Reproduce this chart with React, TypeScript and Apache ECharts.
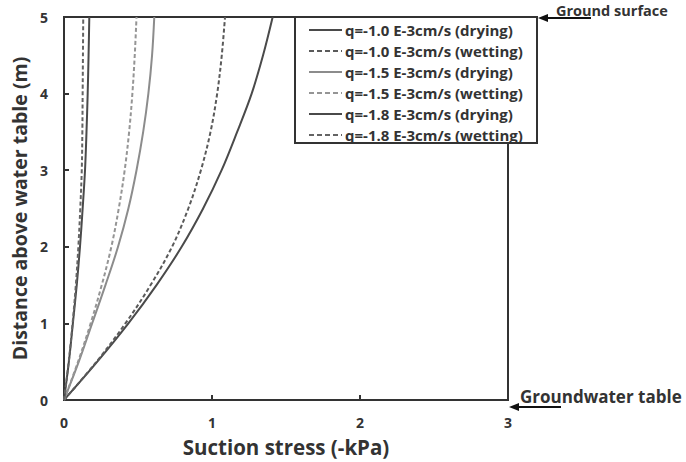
import React, { useEffect, useRef } from "react";
import * as echarts from "echarts";

// Height above the water table (m)
const heights = [0, 0.5, 1, 1.5, 2, 2.5, 3, 3.5, 4, 4.5, 5];

// Suction stress (-kPa) at each height, per flux q and path
const q10Drying = [0, 0.225, 0.435, 0.625, 0.795, 0.94, 1.065, 1.17, 1.268, 1.345, 1.41];
const q10Wetting = [0, 0.22, 0.415, 0.585, 0.73, 0.84, 0.925, 0.99, 1.035, 1.066, 1.088];
const q15Drying = [0, 0.1, 0.19, 0.28, 0.365, 0.435, 0.49, 0.535, 0.57, 0.595, 0.61];
const q15Wetting = [0, 0.095, 0.18, 0.255, 0.32, 0.37, 0.41, 0.44, 0.462, 0.478, 0.49];
const q18Drying = [0, 0.033, 0.06, 0.086, 0.108, 0.126, 0.142, 0.152, 0.16, 0.166, 0.171];
const q18Wetting = [0, 0.032, 0.058, 0.08, 0.097, 0.11, 0.12, 0.124, 0.126, 0.128, 0.13];

const seriesNames = [
  "q=-1.0 E-3cm/s (drying)",
  "q=-1.0 E-3cm/s (wetting)",
  "q=-1.5 E-3cm/s (drying)",
  "q=-1.5 E-3cm/s (wetting)",
  "q=-1.8 E-3cm/s (drying)",
  "q=-1.8 E-3cm/s (wetting)",
];
const seriesValues = [q10Drying, q10Wetting, q15Drying, q15Wetting, q18Drying, q18Wetting];
const seriesColors = ["#4a4a4a", "#5a5a5a", "#8c8c8c", "#959595", "#4a4a4a", "#646464"];

const xTicks = [0, 3];
const yTicks = [0, 5];

const FONT = "'Open Sans', 'Liberation Sans', Arial, sans-serif";
const INK = "#333";

// Key box drawn over the top-right corner of the plot frame
const KEY_LEFT = 295;
const KEY_TOP = 17;
const KEY_W = 242;
const KEY_H = 126;
const KEY_ROW0 = 30;
const KEY_PITCH = 21;

function buildKey() {
  const items: any[] = [
    {
      type: "rect",
      shape: { x: KEY_LEFT, y: KEY_TOP, width: KEY_W, height: KEY_H },
      style: { fill: "#fff", stroke: INK, lineWidth: 2 },
      z: 10,
    },
  ];
  seriesNames.forEach((name, i) => {
    const y = KEY_ROW0 + i * KEY_PITCH;
    items.push({
      type: "line",
      shape: { x1: KEY_LEFT + 14, y1: y, x2: KEY_LEFT + 47, y2: y },
      style: {
        stroke: seriesColors[i],
        lineWidth: 2,
        lineDash: i % 2 === 1 ? [5, 3] : null,
      },
      z: 11,
    });
    items.push({
      type: "text",
      x: KEY_LEFT + 50,
      y,
      style: {
        text: name,
        fontFamily: FONT,
        fontWeight: "bold",
        fontSize: 15,
        fill: INK,
        verticalAlign: "middle",
      },
      z: 11,
    });
  });
  return items;
}

export default function App() {
  const ref = useRef<HTMLDivElement>(null);

  useEffect(() => {
    if (!ref.current) return;
    const chart = echarts.init(ref.current, undefined, { renderer: "svg" });

    const series = seriesNames.map((name, i) => ({
      name,
      type: "line",
      smooth: 0.35,
      symbol: "none",
      data: heights.map((h, k) => [seriesValues[i][k], h]),
      lineStyle: {
        color: seriesColors[i],
        width: 2,
        type: i % 2 === 1 ? [4, 2.5] : "solid",
      },
      itemStyle: { color: seriesColors[i] },
      z: 2,
    }));

    chart.setOption({
      animation: false,
      backgroundColor: "#fff",
      grid: {
        left: 64,
        right: 178,
        top: 17,
        bottom: 55,
        show: true,
        borderColor: INK,
        borderWidth: 2,
      },
      xAxis: {
        type: "value",
        min: xTicks[0],
        max: xTicks[1],
        interval: 1,
        name: "Suction stress (-kPa)",
        nameLocation: "middle",
        nameGap: 36,
        nameTextStyle: { fontFamily: FONT, fontWeight: "bold", fontSize: 20.5, color: INK },
        axisLine: { lineStyle: { color: INK, width: 2 } },
        axisTick: { inside: true, length: 5, lineStyle: { color: INK, width: 2 } },
        axisLabel: { fontFamily: FONT, fontWeight: "bold", fontSize: 14, color: INK, margin: 15 },
        splitLine: { show: false },
      },
      yAxis: {
        type: "value",
        min: yTicks[0],
        max: yTicks[1],
        interval: 1,
        name: "Distance above water table (m)",
        nameLocation: "middle",
        nameGap: 30,
        nameTextStyle: { fontFamily: FONT, fontWeight: "bold", fontSize: 19.5, color: INK },
        axisLine: { lineStyle: { color: INK, width: 2 } },
        axisTick: { inside: true, length: 5, lineStyle: { color: INK, width: 2 } },
        axisLabel: { fontFamily: FONT, fontWeight: "bold", fontSize: 14, color: INK, margin: 16 },
        splitLine: { show: false },
      },
      graphic: [
        ...buildKey(),
        {
          type: "line",
          shape: { x1: 541, y1: 18, x2: 591, y2: 18 },
          style: { stroke: "#111", lineWidth: 2 },
          z: 20,
        },
        {
          type: "polygon",
          shape: { points: [[538, 18], [548, 14], [548, 22]] },
          style: { fill: "#111" },
          z: 20,
        },
        {
          type: "text",
          x: 556,
          y: 3,
          style: {
            text: "Ground surface",
            fontFamily: FONT,
            fontWeight: "bold",
            fontSize: 14.5,
            fill: INK,
            verticalAlign: "top",
          },
          z: 20,
        },
        {
          type: "line",
          shape: { x1: 512, y1: 407, x2: 561, y2: 407 },
          style: { stroke: "#111", lineWidth: 2 },
          z: 20,
        },
        {
          type: "polygon",
          shape: { points: [[509, 407], [519, 403], [519, 411]] },
          style: { fill: "#111" },
          z: 20,
        },
        {
          type: "text",
          x: 520,
          y: 396,
          style: {
            text: "Groundwater table",
            fontFamily: FONT,
            fontWeight: "bold",
            fontSize: 17,
            fill: INK,
            verticalAlign: "middle",
          },
          z: 20,
        },
      ],
      series,
    });

    return () => chart.dispose();
  }, []);

  return (
    <div
      ref={ref}
      style={{ position: "absolute", left: 0, top: 0, width: 686, height: 462 }}
    />
  );
}
